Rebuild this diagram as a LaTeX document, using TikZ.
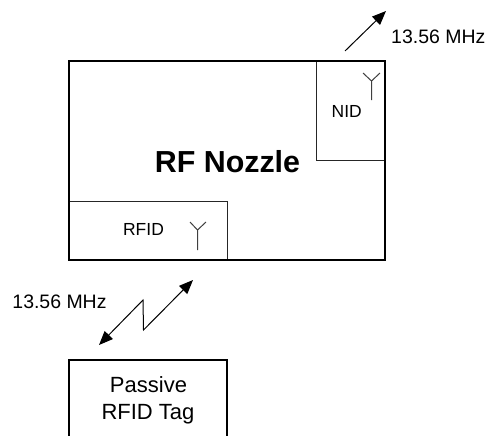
\documentclass[tikz,border=0pt]{standalone}
\usepackage{fontspec}
\setmainfont{Liberation Sans}
\usetikzlibrary{arrows.meta}
\tikzset{
  thickbox/.style={draw=black,line width=1.8pt,fill=none},
  thinbox/.style={draw=black!85,line width=0.75pt},
  ant/.style={draw=black!75,line width=0.75pt},
  link/.style={draw=black,line width=0.75pt,line join=miter},
  tip/.style={-{Triangle[length=10.5pt,width=8.5pt]}},
  lab/.style={anchor=base,inner sep=0pt,font=\fontsize{14.6}{16}\selectfont},
  small/.style={anchor=base,inner sep=0pt,font=\fontsize{13.1}{15}\selectfont},
  tag/.style={anchor=base,inner sep=0pt,font=\fontsize{16.5}{18}\selectfont},
}
\begin{document}
\begin{tikzpicture}[x=0.75pt,y=-0.75pt]
\useasboundingbox (0,0) rectangle (488,435);
\begin{scope}
\clip (0,0) rectangle (488,435);
% main blocks
\coordinate (mainNW) at (69,61);
\coordinate (mainSE) at (385,260);
\draw[thinbox] (316.5,61) -- (316.5,160) -- (385,160);
\draw[thinbox] (69,201) -- (227,201) -- (227,260);
\draw[thickbox] (mainNW) rectangle (mainSE);
\draw[thickbox] (69,445) -- (69,360) -- (227,360) -- (227,445);
% antennas
\coordinate (a1) at (371.5,100); \coordinate (a1m) at (371.5,81);
\coordinate (a1l) at (363,73); \coordinate (a1r) at (380,73);
\draw[ant] (a1) -- (a1m) -- (a1l) (a1m) -- (a1r);
\coordinate (a2) at (197.5,250); \coordinate (a2m) at (197.5,230);
\coordinate (a2l) at (190,222); \coordinate (a2r) at (206,222);
\draw[ant] (a2) -- (a2m) -- (a2l) (a2m) -- (a2r);
% links
\coordinate (upS) at (345,51); \coordinate (upE) at (386,11);
\draw[link,tip] (upS) -- (upE);
\coordinate (zA) at (99,345); \coordinate (zB) at (143,300);
\coordinate (zC) at (143.5,330); \coordinate (zD) at (193,280);
\draw[link,{Triangle[length=10.5pt,width=8.5pt]}-{Triangle[length=10.5pt,width=8.5pt]}] (zA) -- (zB) -- (zC) -- (zD);
\end{scope}
% texts
\node[lab] (f1) at (438.3,44) {13.56 MHz};
\node[lab] (f2) at (59.5,308) {13.56 MHz};
\node[small] (nid) at (346.7,117) {NID};
\node[small] (rfid) at (143.5,235.7) {RFID};
\node[anchor=base,inner sep=0pt,font=\bfseries\fontsize{22.8}{26}\selectfont] (rf) at (227.5,172) {RF Nozzle};
\node[tag] (p1) at (148.5,392) {Passive};
\node[tag] (p2) at (148,419) {RFID Tag};
\end{tikzpicture}
\end{document}
